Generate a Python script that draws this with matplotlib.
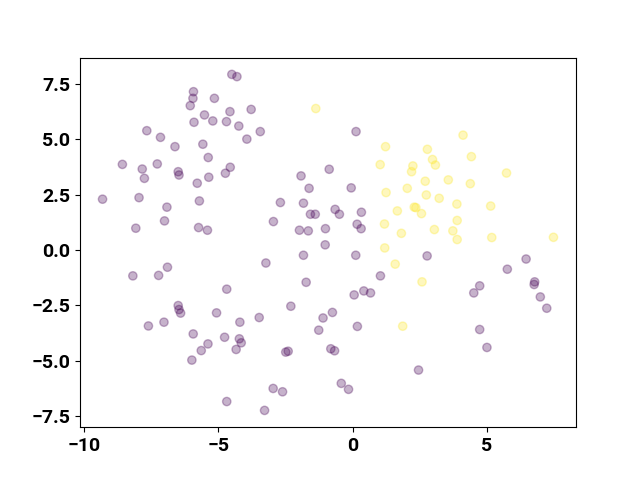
import matplotlib
matplotlib.use("Agg")
import matplotlib.pyplot as plt
from matplotlib.ticker import MultipleLocator
import numpy as np

plt.rcParams['font.family'] = ['Roboto', 'DejaVu Sans']
plt.rcParams['font.weight'] = 'bold'
plt.rcParams['font.size'] = 14

# class 0 (purple)
x0 = [-4.50, -4.31, -5.93, -5.95, -5.15, -6.05, -3.78, -5.52, -4.57, -5.91,
      -5.21, -4.70, -4.24, -7.67, -7.16, -3.94, -6.62, -5.58, -5.38, -8.58,
      -7.84, -7.28, -4.56, -4.74, -6.50, -6.47, -7.76, -5.36, -5.79, -9.32,
      -7.96, -6.92, -5.71, -7.01, -8.08, -5.74, -5.41,
      -3.44, 0.13, -0.87, -1.92, -1.62, -0.05, -2.69, -1.83, -1.57, -1.39,
      -0.65, -0.49, 0.33, -2.95, -1.98, -1.65, -1.01, 0.17, 0.32, -1.02,
      -6.90, -8.19, -7.23, -4.69, -6.50, -6.47, -6.41, -5.07, -4.20, -7.61,
      -7.03, -5.94, -4.77, -4.22, -4.15, -5.39, -5.64, -4.34, -5.99, -4.69,
      -3.23, -1.83, 0.12, 1.04, -1.73, 0.06, 0.42, 0.67, -2.30, -3.48,
      -1.10, -0.75, -1.26, 0.18, -2.49, -2.40, -0.81, -0.67, -2.96, -2.61,
      -0.42, -0.15, -3.28,
      2.78, 6.47, 5.77, 4.74, 4.52, 6.79, 6.77, 7.00, 7.24, 4.74, 5.01, 2.46]
y0 = [7.92, 7.82, 7.14, 6.84, 6.84, 6.51, 6.34, 6.09, 6.24, 5.76,
      5.82, 5.79, 5.59, 5.38, 5.08, 5.00, 4.66, 4.77, 4.17, 3.86,
      3.65, 3.88, 3.73, 3.46, 3.53, 3.38, 3.23, 3.28, 3.01, 2.29,
      2.36, 1.93, 2.21, 1.31, 0.98, 1.01, 0.89,
      5.34, 5.34, 3.64, 3.34, 2.78, 2.80, 2.14, 2.11, 1.61, 1.61,
      1.83, 1.61, 1.70, 1.28, 0.89, 0.86, 0.96, 1.16, 0.96, 0.23,
      -0.78, -1.17, -1.15, -1.77, -2.51, -2.69, -2.85, -2.84, -3.26, -3.43,
      -3.26, -3.79, -3.94, -4.01, -4.19, -4.24, -4.54, -4.49, -4.97, -6.84,
      -0.59, -0.24, -0.24, -1.17, -1.46, -2.03, -1.85, -1.94, -2.54, -3.05,
      -3.07, -2.82, -3.62, -3.45, -4.61, -4.57, -4.46, -4.55, -6.25, -6.40,
      -6.02, -6.29, -7.24,
      -0.27, -0.41, -0.87, -1.62, -1.94, -1.44, -1.56, -2.12, -2.63, -3.59, -4.40, -5.42]

# class 1 (yellow)
x1 = [-1.37, 1.23, 1.03, 2.25, 2.20, 2.04, 1.25, 1.67, 2.30, 2.36, 1.19, 1.82,
      4.12, 2.79, 4.43, 2.98, 3.09, 5.74, 2.71, 3.57, 4.39, 2.75, 3.23, 3.89,
      5.15, 2.57, 3.90, 3.05, 3.74, 3.90, 5.19, 7.49,
      1.20, 1.59, 1.87, 2.59]
y1 = [6.38, 4.66, 3.85, 3.79, 3.53, 2.78, 2.59, 1.76, 1.93, 1.91, 1.17, 0.75,
      5.18, 4.54, 4.21, 4.08, 3.83, 3.47, 3.10, 3.16, 2.99, 2.48, 2.33, 2.07,
      1.98, 1.64, 1.33, 0.92, 0.86, 0.47, 0.56, 0.57,
      0.09, -0.64, -3.44, -1.44]

x = np.array(x0 + x1)
y = np.array(y0 + y1)
labels = np.array([0] * len(x0) + [1] * len(x1))

fig, ax = plt.subplots(figsize=(6.4, 4.8), dpi=100)
ax.scatter(x, y, c=labels, cmap='viridis', alpha=0.3)
ax.xaxis.set_major_locator(MultipleLocator(5))
ax.yaxis.set_major_locator(MultipleLocator(2.5))
fig.savefig('out.png', dpi=100)
